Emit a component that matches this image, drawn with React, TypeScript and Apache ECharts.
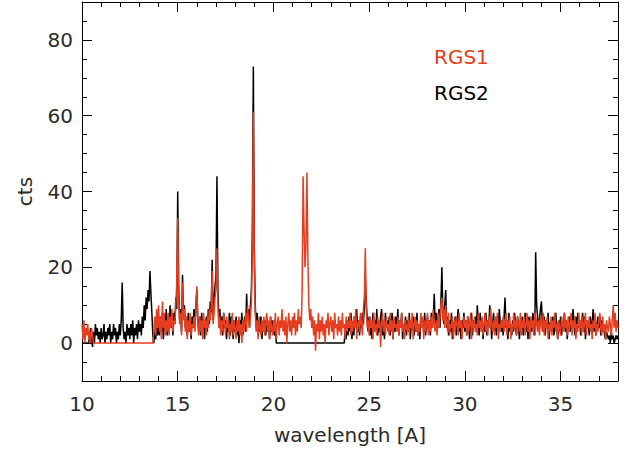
import React, { useEffect, useRef } from "react";
import * as echarts from "echarts";

// wavelength grid: 10.00 .. 38.00 A in 0.05 A bins
const LAMBDA_START = 10;
const LAMBDA_STEP = 0.05;

const xTicks = [10, 15, 20, 25, 30, 35];
const yTicks = [0, 20, 40, 60, 80];

// RGS2 counts per bin (black), rows of 0.5 A
const rgs2 = [
  0, 0, 0, 0, 0, 0, 0, 0, 2, 4, // 10.0
  1, -1, 3, 0, 5, 2, 4, 1, 3, 0, // 10.5
  4, 1, 2, 5, 0, 3, 1, 4, 2, 5, // 11.0
  0, 3, 1, 5, 2, 4, 0, 3, 1, 5, // 11.5
  2, 6, 16, 4, 1, 3, 0, 5, 2, 4, // 12.0
  1, 5, 2, 6, 0, 4, 2, 5, 1, 6, // 12.5
  3, 5, 2, 7, 4, 10, 6, 12, 9, 14, // 13.0
  11, 19, 13, 8, 2, 0, 3, 1, 4, 2, // 13.5
  5, 2, 7, 3, 8, 1, 6, 4, 9, 2, // 14.0
  6, 3, 10, 4, 7, 2, 8, 5, 12, 9, // 14.5
  40, 15, 6, 9, 3, 18, 7, 10, 4, 6, // 15.0
  2, 8, 3, 6, 1, 7, 4, 9, 5, 10, // 15.5
  14, 6, 3, 7, 2, 8, 4, 6, 1, 5, // 16.0
  7, 3, 9, 5, 11, 8, 22, 6, 12, 15, // 16.5
  18, 44, 14, 6, 9, 3, 7, 2, 8, 4, // 17.0
  6, 1, 5, 3, 8, 2, 7, 4, 1, 6, // 17.5
  3, 7, 2, 5, 0, 6, 4, 8, 2, 5, // 18.0
  7, 3, 13, 6, 9, 4, 10, 14, 30, 73, // 18.5
  25, 10, 4, 8, 2, 6, 3, 7, 1, 5, // 19.0
  4, 6, 2, 7, 3, 5, 1, 7, 3, 6, // 19.5
  5, 2, 4, 0, 0, 0, 0, 0, 0, 0, // 20.0
  0, 0, 0, 0, 0, 0, 0, 0, 0, 0, // 20.5
  0, 0, 0, 0, 0, 0, 0, 0, 0, 0, // 21.0
  0, 0, 0, 0, 0, 0, 0, 0, 0, 0, // 21.5
  0, 0, 0, 0, 0, 0, 0, 0, 0, 0, // 22.0
  0, 0, 0, 0, 0, 0, 0, 0, 0, 0, // 22.5
  0, 0, 0, 0, 0, 0, 0, 0, 0, 0, // 23.0
  0, 0, 0, 0, 0, 4, 1, 6, 2, 7, // 23.5
  3, 8, 1, 5, 2, 7, 4, 9, 3, 6, // 24.0
  2, 7, 4, 8, 5, 10, 17, 11, 6, 3, // 24.5
  7, 2, 5, 1, 8, 3, 6, 4, 9, 2, // 25.0
  5, 3, 7, 9, 2, 6, 1, 8, 4, 6, // 25.5
  3, 7, 2, 5, 8, 1, 6, 3, 7, 4, // 26.0
  9, 2, 6, 4, 8, 1, 5, 3, 7, 2, // 26.5
  6, 3, 8, 1, 5, 4, 7, 2, 6, 3, // 27.0
  8, 2, 5, 1, 7, 4, 6, 3, 8, 2, // 27.5
  5, 7, 3, 6, 2, 8, 4, 6, 13, 5, // 28.0
  8, 3, 6, 9, 4, 11, 20, 8, 5, 10, // 28.5
  14, 4, 7, 2, 6, 3, 8, 1, 5, 4, // 29.0
  7, 2, 6, 9, 3, 5, 1, 6, 4, 8, // 29.5
  3, 6, 2, 7, 4, 1, 5, 8, 2, 6, // 30.0
  4, 7, 3, 10, 5, 2, 8, 4, 6, 1, // 30.5
  5, 3, 8, 2, 6, 4, 10, 7, 1, 5, // 31.0
  8, 3, 6, 2, 7, 4, 9, 5, 3, 6, // 31.5
  2, 7, 12, 4, 6, 1, 8, 3, 5, 2, // 32.0
  6, 3, 8, 4, 2, 7, 5, 1, 6, 4, // 32.5
  7, 2, 5, 8, 3, 6, 1, 7, 4, 5, // 33.0
  3, 8, 6, 2, 24, 10, 7, 4, 6, 9, // 33.5
  11, 5, 3, 7, 2, 6, 4, 8, 1, 5, // 34.0
  6, 3, 7, 2, 5, 8, 4, 1, 6, 3, // 34.5
  7, 2, 5, 4, 8, 3, 6, 1, 5, 7, // 35.0
  3, 6, 4, 9, 5, 2, 7, 3, 8, 4, // 35.5
  6, 2, 5, 8, 3, 7, 1, 6, 4, 5, // 36.0
  2, 7, 4, 5, 9, 3, 6, 2, 5, 7, // 36.5
  4, 7, 2, 6, 3, 5, 2, 1, 3, 2, // 37.0
  1, 2, 0, 3, 1, 2, 0, 1, 2, 1, // 37.5
  2, // 38.0
];

// RGS1 counts per bin (red), rows of 0.5 A
const rgs1 = [
  5, 1, 6, 0, 4, 2, 5, 1, 3, 0, // 10.0
  4, 2, 0, 0, 0, 0, 0, 0, 0, 0, // 10.5
  0, 0, 0, 0, 0, 0, 0, 0, 0, 0, // 11.0
  0, 0, 0, 0, 0, 0, 0, 0, 0, 0, // 11.5
  0, 0, 0, 0, 0, 0, 0, 0, 0, 0, // 12.0
  0, 0, 0, 0, 0, 0, 0, 0, 0, 0, // 12.5
  0, 0, 0, 0, 0, 0, 0, 0, 0, 0, // 13.0
  0, 0, 0, 0, 0, 3, 7, 2, 9, 4, // 13.5
  10, 3, 7, 1, 11, 4, 8, 2, 6, 3, // 14.0
  8, 2, 7, 4, 9, 3, 6, 5, 10, 16, // 14.5
  33, 12, 5, 8, 2, 16, 6, 9, 3, 7, // 15.0
  1, 6, 3, 8, 2, 5, 4, 7, 3, 9, // 15.5
  15, 5, 2, 7, 3, 6, 1, 8, 4, 6, // 16.0
  2, 7, 4, 9, 6, 10, 19, 5, 8, 12, // 16.5
  14, 25, 10, 4, 7, 2, 6, 3, 8, 5, // 17.0
  2, 7, 4, 6, 1, 5, 3, 8, 2, 6, // 17.5
  4, 1, 6, 3, 7, 2, 5, 0, 6, 3, // 18.0
  5, 8, 3, 10, 6, 4, 7, 11, 25, 61, // 18.5
  20, 8, 3, 6, 1, 7, 4, 2, 6, 3, // 19.0
  7, 2, 5, 8, 3, 6, 1, 7, 4, 2, // 19.5
  6, 3, 8, 1, 5, 7, 2, 6, 4, 9, // 20.0
  3, 6, 2, 7, 0, 5, 8, 3, 6, 2, // 20.5
  7, 4, 8, 2, 6, 3, 9, 5, 7, 4, // 21.0
  14, 44, 30, 20, 26, 45, 22, 10, 6, 9, // 21.5
  4, 7, 2, 6, -2, 5, 3, 8, 1, 6, // 22.0
  3, 7, 2, 5, 0, 6, 4, 8, 2, 5, // 22.5
  7, 3, 6, 1, 8, 4, 5, 2, 7, 3, // 23.0
  6, 2, 8, 4, 5, 1, 7, 3, 6, 4, // 23.5
  8, 2, 6, 3, 7, 4, 9, 1, 5, 6, // 24.0
  3, 8, 5, 2, 9, 12, 25, 8, 4, 6, // 24.5
  2, 7, 4, 6, 1, 8, 3, 5, 2, 7, // 25.0
  4, 6, -1, 5, 8, 3, 6, 2, 7, 4, // 25.5
  5, 2, 8, 3, 6, 1, 7, 4, 5, 3, // 26.0
  7, 2, 6, 4, 8, 3, 5, 1, 6, 4, // 26.5
  3, 7, 2, 6, 4, 8, 1, 5, 7, 3, // 27.0
  6, 2, 5, 3, 8, 4, 7, 1, 6, 3, // 27.5
  5, 8, 2, 6, 3, 7, 4, 9, 5, 3, // 28.0
  6, 2, 8, 4, 7, 10, 12, 6, 9, 4, // 28.5
  10, 6, 3, 8, 2, 5, 4, 7, 1, 6, // 29.0
  3, 7, 5, 2, 8, 4, 6, 1, 5, 7, // 29.5
  4, 6, 2, 7, 3, 5, 8, 1, 6, 4, // 30.0
  7, 3, 5, 2, 8, 4, 6, 3, 7, 2, // 30.5
  5, 8, 3, 6, 2, 7, 4, 9, 5, 3, // 31.0
  6, 2, 7, 4, 8, 1, 5, 3, 6, 4, // 31.5
  7, 3, 5, 8, 2, 6, 4, 7, 1, 5, // 32.0
  3, 8, 4, 6, 2, 7, 5, 3, 8, 2, // 32.5
  6, 4, 7, 2, 5, 8, 3, 6, 1, 7, // 33.0
  4, 6, 2, 8, 7, 5, 3, 6, 2, 7, // 33.5
  5, 3, 8, 2, 6, 4, 7, 1, 5, 3, // 34.0
  7, 2, 6, 4, 8, 3, 5, 1, 6, 4, // 34.5
  2, 7, 5, 3, 8, 4, 6, 2, 7, 3, // 35.0
  5, 8, 2, 6, 4, 7, 1, 5, 3, 8, // 35.5
  4, 6, 2, 7, 3, 5, 8, 2, 6, 4, // 36.0
  7, 3, 5, 1, 6, 4, 8, 2, 5, 3, // 36.5
  6, 8, 4, 2, 7, 3, 5, 1, 6, 4, // 37.0
  3, 7, 5, 2, 6, 10, 4, 8, 3, 6, // 37.5
  4, // 38.0
];

const RED = "#e53d20";
const FONT = "DejaVu Sans";
const TEXT = "#2a2a2a";
const FS = 20;

function toPairs(vals: number[]) {
  return vals.map((v, i) => [
    Math.round((LAMBDA_START + i * LAMBDA_STEP) * 100) / 100,
    v,
  ]);
}

export default function App() {
  const ref = useRef<HTMLDivElement>(null);

  useEffect(() => {
    if (!ref.current) return;
    const chart = echarts.init(ref.current, undefined, { renderer: "svg" });

    const frameLine = { show: true, onZero: false, lineStyle: { color: "#000", width: 1 } };
    const xBase = { type: "value", min: 10, max: 38, splitLine: { show: false } };
    const yBase = { type: "value", min: -10, max: 90, splitLine: { show: false } };
    const tickStyle = { color: "#000", width: 1 };

    chart.setOption({
      animation: false,
      backgroundColor: "#fff",
      grid: { left: 82, top: 2, width: 536, height: 380, containLabel: false },
      legend: {
        left: 423,
        top: 42,
        orient: "vertical",
        itemWidth: 0,
        itemHeight: 0,
        itemGap: 16,
        selectedMode: false,
        textStyle: { fontFamily: FONT, fontSize: FS, color: TEXT },
        data: [
          { name: "RGS1", textStyle: { color: RED } },
          { name: "RGS2", textStyle: { color: "#000" } },
        ],
      },
      xAxis: [
        {
          ...xBase,
          position: "bottom",
          axisLine: frameLine,
          axisTick: { show: true, inside: true, length: 10, customValues: xTicks, lineStyle: tickStyle },
          axisLabel: {
            customValues: xTicks,
            margin: 13,
            fontFamily: FONT,
            fontSize: FS,
            color: TEXT,
          },
          name: "wavelength [A]",
          nameLocation: "middle",
          nameGap: 44,
          nameTextStyle: { fontFamily: FONT, fontSize: FS, color: TEXT },
        },
        {
          ...xBase,
          position: "bottom",
          interval: 1,
          axisLine: { show: false, onZero: false },
          axisTick: { show: true, inside: true, length: 5, lineStyle: tickStyle },
          axisLabel: { show: false },
        },
        {
          ...xBase,
          position: "top",
          axisLine: frameLine,
          axisTick: { show: true, inside: true, length: 10, customValues: xTicks, lineStyle: tickStyle },
          axisLabel: { show: false },
        },
        {
          ...xBase,
          position: "top",
          interval: 1,
          axisLine: { show: false, onZero: false },
          axisTick: { show: true, inside: true, length: 5, lineStyle: tickStyle },
          axisLabel: { show: false },
        },
      ],
      yAxis: [
        {
          ...yBase,
          position: "left",
          axisLine: frameLine,
          axisTick: { show: true, inside: true, length: 10, customValues: yTicks, lineStyle: tickStyle },
          axisLabel: {
            customValues: yTicks,
            margin: 9,
            fontFamily: FONT,
            fontSize: FS,
            color: TEXT,
          },
          name: "cts",
          nameLocation: "middle",
          nameGap: 47,
          nameTextStyle: { fontFamily: FONT, fontSize: FS, color: TEXT },
        },
        {
          ...yBase,
          position: "left",
          interval: 5,
          axisLine: { show: false, onZero: false },
          axisTick: { show: true, inside: true, length: 5, lineStyle: tickStyle },
          axisLabel: { show: false },
        },
        {
          ...yBase,
          position: "right",
          axisLine: frameLine,
          axisTick: { show: true, inside: true, length: 10, customValues: yTicks, lineStyle: tickStyle },
          axisLabel: { show: false },
        },
        {
          ...yBase,
          position: "right",
          interval: 5,
          axisLine: { show: false, onZero: false },
          axisTick: { show: true, inside: true, length: 5, lineStyle: tickStyle },
          axisLabel: { show: false },
        },
      ],
      series: [
        {
          name: "RGS2",
          type: "line",
          xAxisIndex: 0,
          yAxisIndex: 0,
          data: toPairs(rgs2),
          showSymbol: false,
          symbol: "none",
          lineStyle: { color: "#000", width: 1.5 },
          itemStyle: { color: "#000" },
        },
        {
          name: "RGS1",
          type: "line",
          xAxisIndex: 0,
          yAxisIndex: 0,
          data: toPairs(rgs1),
          showSymbol: false,
          symbol: "none",
          lineStyle: { color: RED, width: 1.5 },
          itemStyle: { color: RED },
        },
      ],
    });

    return () => chart.dispose();
  }, []);

  return (
    <div
      ref={ref}
      style={{ position: "fixed", left: 0, top: 0, width: 626, height: 450 }}
    />
  );
}
